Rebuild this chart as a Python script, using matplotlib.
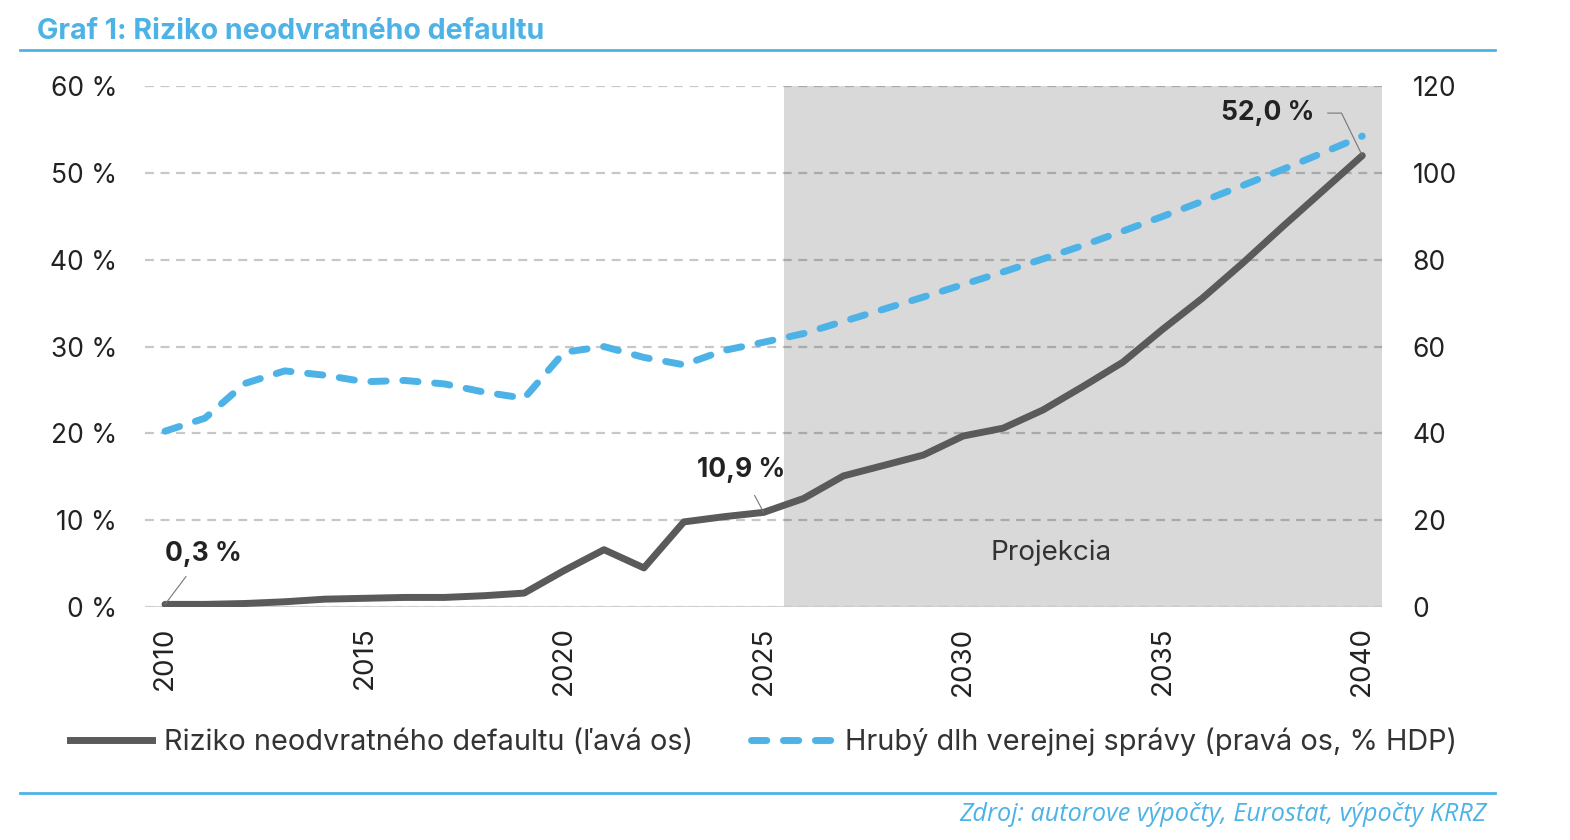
import matplotlib.pyplot as plt
from matplotlib.lines import Line2D
import numpy as np

BLUE = "#4db3e6"
GREY = "#5a5a5a"
INK = "#222222"
SHADE = "#d9d9d9"

plt.rcParams.update({
    "font.family": ["Inter", "DejaVu Sans"],
    "font.size": 19,
})

# data
years = np.arange(2010, 2041)
risk = [0.3, 0.3, 0.4, 0.6, 0.9, 1.0, 1.1, 1.1, 1.3, 1.6,
        4.2, 6.6, 4.5, 9.8, 10.4, 10.9, 12.5, 15.1, 16.3, 17.5,
        19.7, 20.6, 22.7, 25.4, 28.2, 32.0, 35.6, 39.6, 43.8, 47.9,
        52.0]
debt = [40.5, 43.5, 51.5, 54.4, 53.4, 51.9, 52.2, 51.4, 49.5, 48.1,
        58.7, 60.0, 57.5, 55.8, 59.1, 61.0, 63.0, 65.8, 68.6, 71.4,
        74.3, 77.2, 80.2, 83.3, 86.6, 90.0, 93.5, 97.1, 100.8, 104.6,
        108.5]
proj_start, proj_end = 2025.5, 2040.5
labels_risk = {2010: "0,3 %", 2025: "10,9 %", 2040: "52,0 %"}

fig = plt.figure(figsize=(15.7, 8.4), dpi=100)
ax = fig.add_axes([0.0924, 0.2774, 0.788, 0.620])
ax2 = ax.twinx()

# projection shade + grid
ax.axvspan(proj_start, proj_end, color=SHADE, zorder=0.2, lw=0)
ax.set_axisbelow(True)
ax.yaxis.grid(True, color="black", alpha=0.22, lw=1.6, dashes=(4, 3))
ax.axhline(0, color="#cfcfcf", lw=2, zorder=0.6)

ax.plot(years, risk, color=GREY, lw=5, solid_joinstyle="round",
        solid_capstyle="round", zorder=3)
ax2.plot(years, debt, color=BLUE, lw=5, dashes=(2.2, 2.4),
         dash_capstyle="round", zorder=3)

ax.set_xlim(2009.5, 2040.5)
ax.set_ylim(0, 60)
ax2.set_ylim(0, 120)
ax.set_xticks(np.arange(2010, 2041, 5))
ax.set_xticklabels([str(y) for y in range(2010, 2041, 5)], rotation=90)
ax.set_yticks(np.arange(0, 61, 10))
ax.set_yticklabels([f"{v} %" for v in range(0, 61, 10)])
ax2.set_yticks(np.arange(0, 121, 20))
ax.tick_params(axis="x", length=0, pad=14, colors=INK, labelsize=20)
ax.tick_params(axis="y", length=0, pad=20, colors=INK, labelsize=19)
ax2.tick_params(axis="y", length=0, pad=22, colors=INK, labelsize=19)
for a in (ax, ax2):
    for s in a.spines.values():
        s.set_visible(False)

ax.text(2032.2, 6.2, "Projekcia", ha="center", va="center",
        fontsize=20, color="#333333")

# value labels with leader lines
lead = dict(arrowstyle="-", color="#777777", lw=0.8, shrinkB=0)
ax.annotate(labels_risk[2010], xy=(2010, risk[0]), xytext=(2010.95, 6.1),
            ha="center", va="center", fontsize=19, fontweight="bold",
            color=INK, arrowprops=dict(lead, shrinkA=6))
ax.annotate(labels_risk[2025], xy=(2025, risk[15]), xytext=(2024.43, 15.8),
            ha="center", va="center", fontsize=19, fontweight="bold",
            color=INK, arrowprops=dict(lead, shrinkA=8))
ax.text(2038.8, 56.9, labels_risk[2040], ha="right", va="center",
        fontsize=19, fontweight="bold", color=INK)
ax.annotate("", xy=(2040, risk[-1]), xytext=(2039.13, 56.9),
            arrowprops=dict(lead, shrinkA=0,
                            connectionstyle="angle,angleA=0,angleB=116"))

# legend
handles = [Line2D([], [], color=GREY, lw=5),
           Line2D([], [], color=BLUE, lw=5, dashes=(2.2, 2.4),
                  dash_capstyle="round")]
fig.legend(handles, ["Riziko neodvratného defaultu (ľavá os)",
                     "Hrubý dlh verejnej správy (pravá os, % HDP)"],
           loc="center", bbox_to_anchor=(0.4863, 0.1167), ncol=2,
           frameon=False, fontsize=20.8, handlelength=2.85,
           handletextpad=0.4, columnspacing=2.0, labelcolor="#333333")

# title, rules, source
fig.text(0.0236, 0.962, "Graf 1: Riziko neodvratného defaultu",
         ha="left", va="center", fontsize=20.6, fontweight="bold", color=BLUE)
fig.add_artist(Line2D([0.0127, 0.952], [0.9405, 0.9405], color=BLUE, lw=2))
fig.add_artist(Line2D([0.0127, 0.952], [0.056, 0.056], color=BLUE, lw=2))
fig.text(0.947, 0.0298, "Zdroj: autorove výpočty, Eurostat, výpočty KRRZ",
         ha="right", va="center", fontsize=18.2, style="italic", color=BLUE,
         family=["Open Sans", "DejaVu Sans"])

fig.savefig("out.png", dpi=100)
